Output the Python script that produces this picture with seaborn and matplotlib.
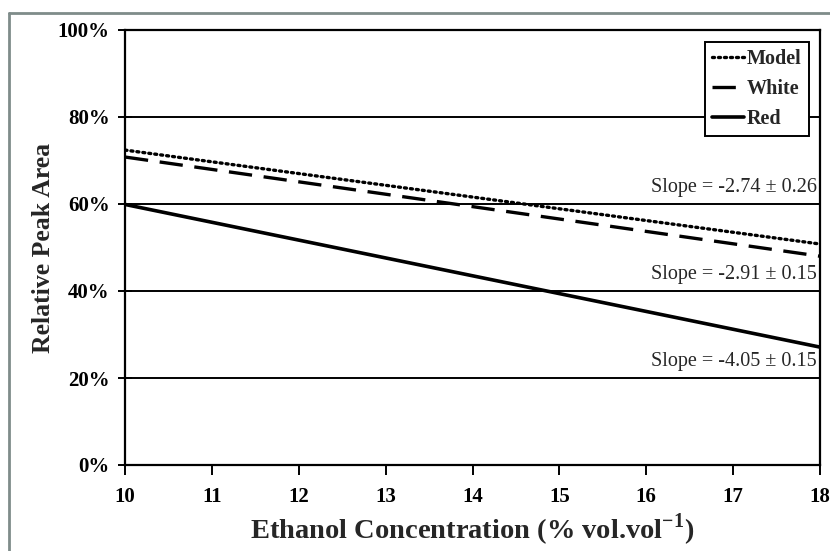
import matplotlib
matplotlib.use("Agg")
import matplotlib.pyplot as plt
import seaborn as sns
import pandas as pd
from matplotlib.lines import Line2D
from matplotlib.ticker import FuncFormatter

# ---- data ----
ethanol = [10, 18]
model = [72.4, 50.8]
white = [70.8, 48.0]
red = [59.9, 27.1]
series_names = ["Model", "White", "Red"]
slope_labels = ["Slope = -2.74 \u00b1 0.26", "Slope = -2.91 \u00b1 0.15", "Slope = -4.05 \u00b1 0.15"]
slope_label_y = [63.9, 43.7, 23.8]
x_ticks = [10, 11, 12, 13, 14, 15, 16, 17, 18]
y_ticks = [0, 20, 40, 60, 80, 100]

df = pd.DataFrame({
    "x": ethanol * 3,
    "y": model + white + red,
    "series": [s for s in series_names for _ in ethanol],
})

sns.set_style("white")
plt.rcParams["font.family"] = ["Liberation Serif", "DejaVu Serif"]
plt.rcParams["mathtext.fontset"] = "custom"
plt.rcParams["mathtext.rm"] = "Liberation Serif"
plt.rcParams["mathtext.bf"] = "Liberation Serif:bold"

fig = plt.figure(figsize=(8.3, 5.51), dpi=100)
ax = fig.add_axes([125 / 830, 1 - 465 / 551, (820 - 125) / 830, (465 - 30) / 551])

styles = {
    "Model": dict(ls=(0, (0.6, 1.2)), lw=2.4, dash_capstyle="round"),
    "White": dict(ls=(0, (7, 3.5)), lw=2.4),
    "Red": dict(ls="-", lw=2.6),
}
for name in series_names:
    sub = df[df["series"] == name]
    sns.lineplot(data=sub, x="x", y="y", ax=ax, color="black", label=name,
                 **styles[name])

ax.set_xlim(10, 18)
ax.set_ylim(0, 100)
ax.set_xticks(x_ticks)
ax.set_yticks(y_ticks)
ax.yaxis.set_major_formatter(FuncFormatter(lambda v, p: f"{v:.0f}%"))
for yv in y_ticks[1:-1]:
    ax.axhline(yv, color="black", lw=1.4, zorder=0)

for s in ax.spines.values():
    s.set_color("black")
    s.set_linewidth(1.6)
    s.set_visible(True)

ax.tick_params(axis="x", direction="out", length=7, width=1.4, colors="black",
               labelsize=15, pad=9, bottom=True)
ax.tick_params(axis="y", direction="inout", length=10, width=1.4, colors="black",
               labelsize=15, pad=6, left=True)
for lab in ax.get_xticklabels() + ax.get_yticklabels():
    lab.set_fontweight("bold")

ax.set_xlabel(r"Ethanol Concentration (% vol.vol$^{\mathbf{-1}}$)", fontsize=20.5,
              fontweight="bold", labelpad=3)
ax.set_ylabel("Relative Peak Area", fontsize=18.5, fontweight="bold", labelpad=2)

for txt, yy in zip(slope_labels, slope_label_y):
    ax.text(17.96, yy, txt, ha="right", va="center", fontsize=14.5)

leg = ax.legend(loc="upper right", bbox_to_anchor=(0.984, 0.972), frameon=True,
                fancybox=False, edgecolor="black", framealpha=1,
                prop={"family": "Liberation Serif", "weight": "bold", "size": 14.5},
                handlelength=1.6, handletextpad=0.15, borderpad=0.35,
                labelspacing=0.5, borderaxespad=0)
leg.get_frame().set_linewidth(1.4)

# outer grey frame
fig.add_artist(Line2D([9 / 830, 9 / 830], [0, 1 - 13 / 551], transform=fig.transFigure,
                      color="#7f8c8a", lw=2))
fig.add_artist(Line2D([9 / 830, 1], [1 - 13 / 551, 1 - 13 / 551], transform=fig.transFigure,
                      color="#7f8c8a", lw=2))

fig.savefig("out.png", dpi=100)
